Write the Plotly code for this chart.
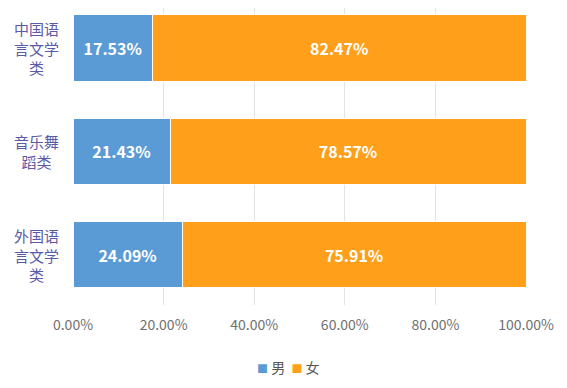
import plotly.graph_objects as go

categories = ["中国语言文学类", "音乐舞蹈类", "外国语言文学类"]
category_labels = ["中国语<br>言文学<br>类", "音乐舞<br>蹈类", "外国语<br>言文学<br>类"]
series_names = ["男", "女"]
series_colors = ["#5B9BD5", "#FF9F1A"]
male = [17.53, 21.43, 24.09]
female = [82.47, 78.57, 75.91]
x_ticks = [0, 20, 40, 60, 80, 100]
x_tick_labels = ["0.00%", "20.00%", "40.00%", "60.00%", "80.00%", "100.00%"]

FONT = "Noto Sans CJK SC"
fig = go.Figure()
for name, color, vals in zip(series_names, series_colors, [male, female]):
    fig.add_trace(go.Bar(
        y=categories, x=vals, name=name, orientation="h",
        marker=dict(color=color, line=dict(color="#ffffff", width=1)),
        text=[f"{v:.2f}%" for v in vals], textposition="inside",
        insidetextanchor="middle", textangle=0,
        textfont=dict(color="white", size=16, family=FONT, weight="bold"),
        showlegend=False,
    ))

for cat, lab in zip(categories, category_labels):
    fig.add_annotation(x=-0.0795, xref="paper", y=cat, yref="y", text=lab,
                       showarrow=False, xanchor="center", yanchor="middle",
                       align="center", font=dict(size=15, color="#5A5AA8", family=FONT))

legend_text = "  ".join(
    f'<span style="color:{c};font-size:11px">■</span> {n}'
    for n, c in zip(series_names, series_colors)
)
fig.add_annotation(x=0.4768, xref="paper", y=-0.2088, yref="paper", text=legend_text,
                   showarrow=False, xanchor="center", yanchor="middle",
                   font=dict(size=14, color="#555555", family=FONT))

fig.update_layout(
    barmode="stack",
    bargap=0.356,
    width=567, height=388,
    margin=dict(l=65, r=49, t=0, b=91),
    paper_bgcolor="white", plot_bgcolor="white",
    font=dict(family=FONT, color="#666666"),
    showlegend=False,
    uniformtext=dict(mode=False),
)
fig.update_xaxes(range=[0, 100], tickvals=x_ticks, ticktext=x_tick_labels,
                 showgrid=True, gridcolor="#e3e3e3", gridwidth=1,
                 zeroline=False, showline=False,
                 tickfont=dict(size=14, color="#707070"), ticks="",
                 ticklabelstandoff=10)
fig.update_yaxes(range=[2.4891, -0.3874], showgrid=False, showline=False,
                 showticklabels=False, ticks="")

fig.write_html("out.html")
